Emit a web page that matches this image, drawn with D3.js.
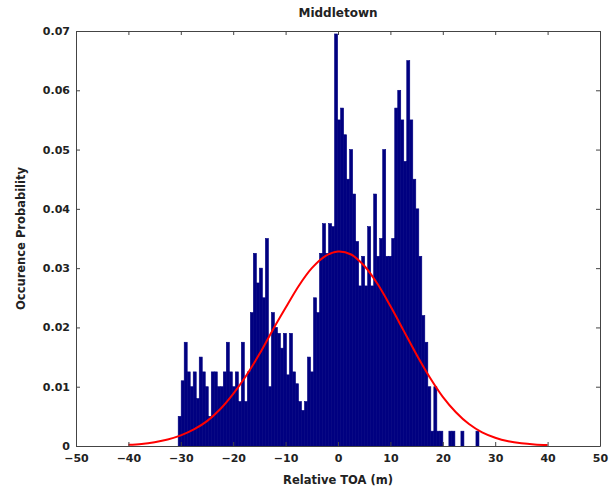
<!DOCTYPE html>
<html>
<head>
<meta charset="utf-8">
<script src="https://cdn.jsdelivr.net/npm/d3@7"></script>
<style>
  body { margin: 0; background: #fff; }
  text { font-family: "DejaVu Sans", sans-serif; font-weight: bold; fill: #222; }
</style>
</head>
<body>
<div id="chart"></div>
<script>
// Histogram: 100 bins between histLo and histHi (m), heights are occurrence probability
const histLo = -30.5;
const histHi = 26.9;
const histValues = [
    0.0050, 0.0110, 0.0175, 0.0125, 0.0100, 0.0125, 0.0080, 0.0150, 0.0125, 0.0100,
    0.0050, 0.0125, 0.0125, 0.0100, 0.0100, 0.0125, 0.0175, 0.0125, 0.0100, 0.0125,
    0.0075, 0.0175, 0.0075, 0.0125, 0.0225, 0.0325, 0.0275, 0.0300, 0.0250, 0.0350,
    0.0100, 0.0225, 0.0200, 0.0190, 0.0165, 0.0190, 0.0120, 0.0190, 0.0125, 0.0105,
    0.0075, 0.0060, 0.0075, 0.0150, 0.0125, 0.0250, 0.0225, 0.0325, 0.0375, 0.0325,
    0.0375, 0.0370, 0.0695, 0.0550, 0.0570, 0.0525, 0.0450, 0.0500, 0.0425, 0.0345,
    0.0270, 0.0320, 0.0270, 0.0370, 0.0270, 0.0425, 0.0320, 0.0350, 0.0500, 0.0320,
    0.0320, 0.0350, 0.0570, 0.0600, 0.0550, 0.0480, 0.0650, 0.0550, 0.0450, 0.0400,
    0.0320, 0.0220, 0.0175, 0.0100, 0.0025, 0.0100, 0.0025, 0.0025, 0, 0,
    0.0025, 0.0025, 0, 0, 0.0025, 0, 0, 0, 0, 0.0025
];

// Fitted normal curve
const fitX = [-40, -37.5, -35, -32.5, -30, -27.5, -25, -22.5, -20, -17.5, -15, -12.5, -10, -7.5, -5, -2.5,
    0, 2.5, 5, 7.5, 10, 12.5, 15, 17.5, 20, 22.5, 25, 27.5, 30, 32.5, 35, 37.5, 40];
const fitY = [0.00020, 0.00035, 0.00065, 0.0011, 0.0018, 0.0028, 0.0042, 0.0062, 0.0088, 0.0119, 0.0155, 0.0195, 0.0233, 0.0270, 0.0300, 0.0320,
    0.0328, 0.0323, 0.0304, 0.0274, 0.0236, 0.0195, 0.0154, 0.0116, 0.0083, 0.0057, 0.0037, 0.0023, 0.0014, 0.0008, 0.00045, 0.00025, 0.00015];

const xTicks = [-50, -40, -30, -20, -10, 0, 10, 20, 30, 40, 50];
const yTicks = [0, 0.01, 0.02, 0.03, 0.04, 0.05, 0.06, 0.07];

const WIDTH = 615;
const HEIGHT = 491;
const MARGIN = { top: 31, right: 15, bottom: 45, left: 76 };

const svg = d3.select("#chart")
    .append("svg")
    .attr("width", WIDTH)
    .attr("height", HEIGHT);

const innerWidth = WIDTH - MARGIN.left - MARGIN.right;
const innerHeight = HEIGHT - MARGIN.top - MARGIN.bottom;

const g = svg.append("g")
    .attr("transform", `translate(${MARGIN.left},${MARGIN.top})`);

const x = d3.scaleLinear().domain([-50, 50]).range([0, innerWidth]);
const y = d3.scaleLinear().domain([0, 0.07]).range([innerHeight, 0]);

// bars
const binW = (histHi - histLo) / histValues.length;
const bins = histValues.map((v, i) => ({ x0: histLo + i * binW, x1: histLo + (i + 1) * binW, v }))
    .filter(d => d.v > 0);

g.selectAll(".bar")
    .data(bins)
    .enter()
    .append("rect")
    .attr("class", "bar")
    .attr("x", d => x(d.x0))
    .attr("width", d => x(d.x1) - x(d.x0))
    .attr("y", d => y(d.v))
    .attr("height", d => innerHeight - y(d.v))
    .attr("fill", "#000080")
    .attr("stroke", "#000080")
    .attr("stroke-width", 0.6);

// fitted curve
const fit = fitX.map((v, i) => [v, fitY[i]]);
g.append("path")
    .datum(fit)
    .attr("fill", "none")
    .attr("stroke", "#ff0000")
    .attr("stroke-width", 2)
    .attr("d", d3.line().x(d => x(d[0])).y(d => y(d[1])).curve(d3.curveCatmullRom));

// axes (MATLAB style: ticks inward, box on)
const axisColor = "#444";
function styleAxis(sel, hideText) {
    sel.select(".domain").attr("stroke", axisColor);
    sel.selectAll(".tick line").attr("stroke", axisColor);
    sel.selectAll(".tick text").style("font-size", "11px").attr("fill", "#222");
    if (hideText) sel.selectAll(".tick text").remove();
}

g.append("g")
    .attr("transform", `translate(0,${innerHeight})`)
    .call(d3.axisBottom(x).tickValues(xTicks).tickSizeInner(-4).tickSizeOuter(0).tickPadding(8).tickFormat(d3.format("d")))
    .call(s => styleAxis(s, false));

g.append("g")
    .call(d3.axisTop(x).tickValues(xTicks).tickSizeInner(-4).tickSizeOuter(0))
    .call(s => styleAxis(s, true));

g.append("g")
    .call(d3.axisLeft(y).tickValues(yTicks).tickSizeInner(-4).tickSizeOuter(0).tickPadding(6).tickFormat(d => d === 0 ? "0" : d3.format(".2f")(d)))
    .call(s => styleAxis(s, false));

g.append("g")
    .attr("transform", `translate(${innerWidth},0)`)
    .call(d3.axisRight(y).tickValues(yTicks).tickSizeInner(-4).tickSizeOuter(0))
    .call(s => styleAxis(s, true));

// titles
svg.append("text")
    .attr("x", MARGIN.left + innerWidth / 2)
    .attr("y", 17)
    .attr("text-anchor", "middle")
    .style("font-size", "12px")
    .text("Middletown");

svg.append("text")
    .attr("x", MARGIN.left + innerWidth / 2)
    .attr("y", 484)
    .attr("text-anchor", "middle")
    .style("font-size", "11.5px")
    .text("Relative TOA (m)");

svg.append("text")
    .attr("transform", `translate(25,${MARGIN.top + innerHeight / 2}) rotate(-90)`)
    .attr("text-anchor", "middle")
    .style("font-size", "11.5px")
    .text("Occurence Probability");
</script>
</body>
</html>
